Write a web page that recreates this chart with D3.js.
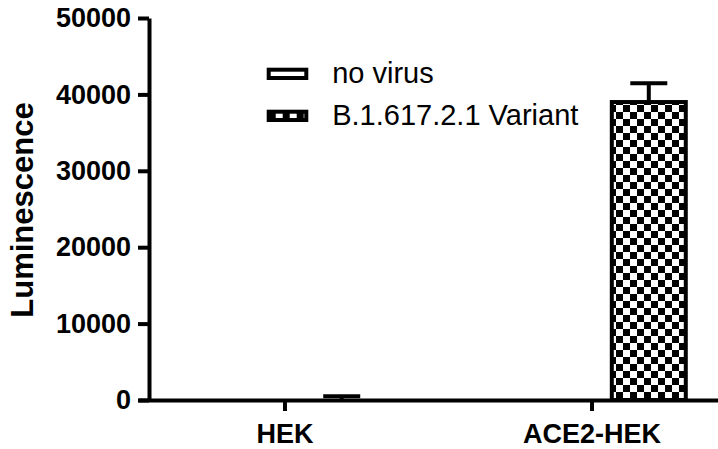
<!DOCTYPE html>
<html>
<head>
<meta charset="utf-8">
<script src="https://cdn.jsdelivr.net/npm/d3@7"></script>
<style>
	body { margin: 0; background: #fff; }
	text { font-family: "Liberation Sans", Arial, sans-serif; fill: #000; }
</style>
</head>
<body>
<div id="plot"></div>
<script>
/*data*/
var categories = ["HEK", "ACE2-HEK"];
var seriesNames = ["no virus", "B.1.617.2.1 Variant"];
var noVirus = [0, 0];
var noVirusErr = [0, 0];
var variant = [0, 39000];
var variantErr = [500, 2450];
var yTicks = [0, 10000, 20000, 30000, 40000, 50000];

var width = 718, height = 449;

var svg = d3.select("#plot").append("svg")
	.attr("width", width)
	.attr("height", height);

// checker fill for the variant bars
var defs = svg.append("defs");
var pat = defs.append("pattern")
	.attr("id", "checker")
	.attr("patternUnits", "userSpaceOnUse")
	.attr("width", 14)
	.attr("height", 14);
pat.append("rect").attr("width", 14).attr("height", 14).attr("fill", "#fff");
pat.append("rect").attr("width", 7).attr("height", 7).attr("fill", "#000");
pat.append("rect").attr("x", 7).attr("y", 7).attr("width", 7).attr("height", 7).attr("fill", "#000");

var y = d3.scaleLinear()
	.domain([0, 50000])
	.range([400, 18]);

var x = d3.scalePoint()
	.domain(categories)
	.range([138, 738])
	.padding(0.477);

var xSub = d3.scaleBand()
	.domain(seriesNames)
	.range([-94.25, 94.25])
	.paddingInner(0.354);

var fills = {"no virus": "#fff", "B.1.617.2.1 Variant": "url(#checker)"};

var rows = [];
categories.forEach(function(c, i) {
	rows.push({cat: c, series: seriesNames[0], value: noVirus[i], err: noVirusErr[i]});
	rows.push({cat: c, series: seriesNames[1], value: variant[i], err: variantErr[i]});
});

/*bars*/
var bars = svg.append("g").attr("class", "bars");
bars.selectAll("rect")
	.data(rows)
	.enter().append("rect")
	.attr("x", function(d) { return x(d.cat) + xSub(d.series); })
	.attr("y", function(d) { return y(d.value); })
	.attr("width", xSub.bandwidth())
	.attr("height", function(d) { return y(0) - y(d.value); })
	.attr("fill", function(d) { return fills[d.series]; })
	.attr("stroke", "#000")
	.attr("stroke-width", 4);

// error bars (upper half only)
var errs = svg.append("g").attr("class", "errs")
	.attr("stroke", "#000")
	.attr("stroke-width", 4);
rows.filter(function(d) { return d.err > 0; }).forEach(function(d) {
	var cx = x(d.cat) + xSub(d.series) + xSub.bandwidth() / 2;
	var half = xSub.bandwidth() / 4;
	errs.append("line")
		.attr("x1", cx).attr("x2", cx)
		.attr("y1", y(d.value)).attr("y2", y(d.value + d.err));
	errs.append("line")
		.attr("x1", cx - half).attr("x2", cx + half)
		.attr("y1", y(d.value + d.err)).attr("y2", y(d.value + d.err));
});

/*axes*/
var yAxis = svg.append("g")
	.attr("transform", "translate(149,0)")
	.call(d3.axisLeft(y).tickValues(yTicks).tickFormat(d3.format("d"))
		.tickSize(11).tickSizeOuter(0).tickPadding(7));

var xAxis = svg.append("g")
	.attr("transform", "translate(0," + y(0) + ")")
	.call(d3.axisBottom(x).tickSize(11).tickSizeOuter(0).tickPadding(13));

[yAxis, xAxis].forEach(function(a) {
	a.selectAll("path, line").attr("stroke", "#000").attr("stroke-width", 4);
	a.selectAll("text")
		.attr("fill", "#000")
		.style("font-size", "27px")
		.style("font-weight", "bold");
});

svg.append("text")
	.attr("transform", "translate(33,210) rotate(-90)")
	.attr("text-anchor", "middle")
	.style("font-size", "31px")
	.style("font-weight", "bold")
	.text("Luminescence");

/*legend*/
var legend = svg.append("g").attr("class", "legend")
	.selectAll("g")
	.data(seriesNames)
	.enter().append("g")
	.attr("transform", function(d, i) { return "translate(268.7," + (69.7 + i * 42) + ")"; });

legend.append("rect")
	.attr("width", 37.6)
	.attr("height", 8.3)
	.attr("fill", function(d) { return fills[d]; })
	.attr("stroke", "#000")
	.attr("stroke-width", 4);

legend.append("text")
	.attr("x", 63.5)
	.attr("y", 13)
	.style("font-size", "29px")
	.text(function(d) { return d; });
</script>
</body>
</html>
